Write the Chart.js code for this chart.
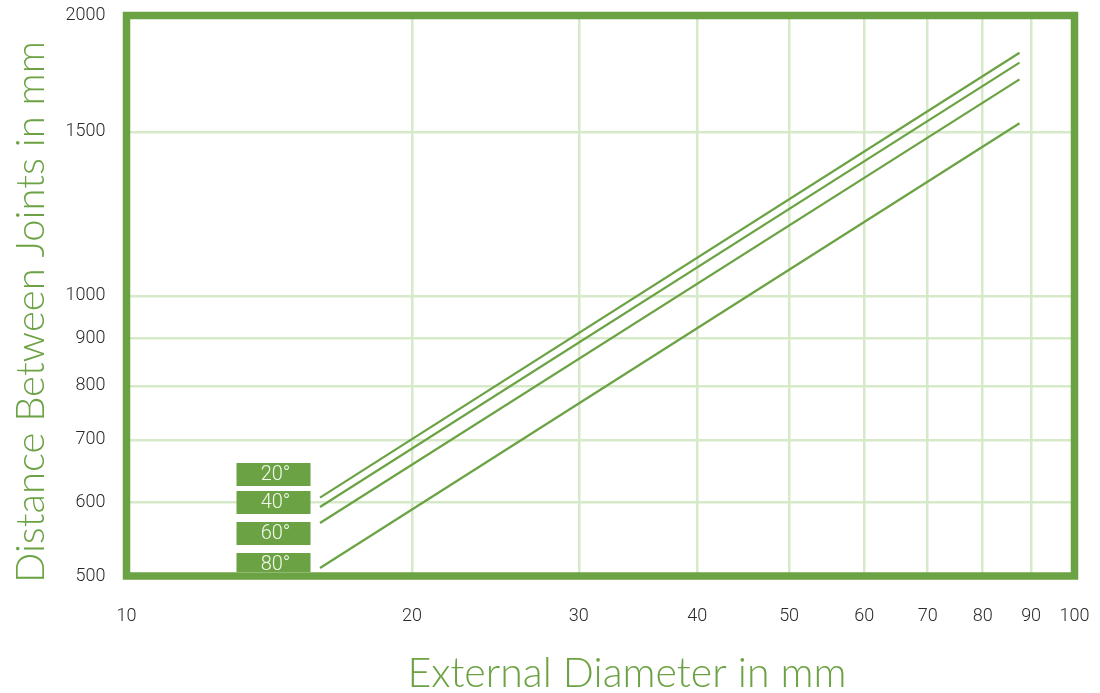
<!DOCTYPE html>
<html>
<head>
<meta charset="utf-8">
<script src="https://cdn.jsdelivr.net/npm/chart.js@4.4.1/dist/chart.umd.min.js"></script>
<style>
  html, body { margin: 0; padding: 0; background: #fff; }
  canvas { display: block; }
</style>
</head>
<body>
<canvas id="jointsChart" width="1100" height="693"></canvas>
<script>
const GREEN = "#6ba243";
const GRID = "#d6e9c9";

// External diameter (mm) at the two ends of each line
const diameters = [16, 87.5];

// Distance between joints (mm), one pair per angle
const angleLabels = ["20°", "40°", "60°", "80°"];
const dist20 = [607, 1824];
const dist40 = [593, 1780];
const dist60 = [570, 1708];
const dist80 = [510, 1532];

const xTicks = [10, 20, 30, 40, 50, 60, 70, 80, 90, 100];
const yTicks = [500, 600, 700, 800, 900, 1000, 1500, 2000];

function toPoints(ys) {
  return diameters.map((d, i) => ({ x: d, y: ys[i] }));
}

const series = [dist20, dist40, dist60, dist80];

// frame, angle boxes and axis titles
const decorPlugin = {
  id: "decor",
  beforeDatasetsDraw(chart) {
    const { ctx, chartArea: a } = chart;
    ctx.save();
    ctx.strokeStyle = GREEN;
    ctx.lineWidth = 7.5;
    ctx.strokeRect(a.left, a.top, a.right - a.left, a.bottom - a.top);
    ctx.restore();
  },
  afterDatasetsDraw(chart) {
    const { ctx, chartArea: a } = chart;
    ctx.save();
    // legend boxes
    const boxTops = [463, 491, 522, 553];
    boxTops.forEach((top, i) => {
      const h = i === 3 ? 19 : 23;
      ctx.fillStyle = GREEN;
      ctx.fillRect(a.left + 110, top, 74, h);
      ctx.fillStyle = "#f3f8ee";
      ctx.font = "300 20px Roboto";
      ctx.textAlign = "center";
      ctx.textBaseline = "middle";
      ctx.fillText(angleLabels[i], a.left + 149, top + 12);
    });

    ctx.fillStyle = GREEN;
    ctx.textAlign = "center";
    ctx.textBaseline = "alphabetic";
    ctx.font = "300 41px Lato";
    ctx.fillText("External Diameter in mm", 627, 687);

    ctx.font = "300 40px Lato";
    ctx.translate(44, 312);
    ctx.rotate(-Math.PI / 2);
    ctx.fillText("Distance Between Joints in mm", 0, 0);
    ctx.restore();
  }
};

new Chart(document.getElementById("jointsChart"), {
  type: "line",
  data: {
    datasets: series.map((ys, i) => ({
      label: angleLabels[i],
      data: toPoints(ys),
      borderColor: GREEN,
      borderWidth: 2.2,
      pointRadius: 0,
      fill: false,
      tension: 0
    }))
  },
  options: {
    responsive: false,
    animation: false,
    layout: { padding: { top: 15.5, right: 25.5, left: 0, bottom: 0 } },
    plugins: {
      legend: { display: false },
      tooltip: { enabled: false }
    },
    scales: {
      x: {
        type: "logarithmic",
        min: 10,
        max: 100,
        afterBuildTicks: scale => { scale.ticks = xTicks.map(v => ({ value: v })); },
        afterFit: scale => {
          scale.height = 117;
          scale.paddingLeft = 0;
          scale.paddingRight = 0;
        },
        grid: { color: GRID, lineWidth: 2.5, drawTicks: false },
        border: { display: false },
        ticks: {
          padding: 30,
          color: "#2a2a2a",
          font: { family: "Roboto", weight: "300", size: 18 },
          maxRotation: 0,
          autoSkip: false,
          callback: v => String(v)
        }
      },
      y: {
        type: "logarithmic",
        min: 500,
        max: 2000,
        afterBuildTicks: scale => { scale.ticks = yTicks.map(v => ({ value: v })); },
        afterFit: scale => {
          scale.width = 126.5;
          scale.paddingTop = 0;
          scale.paddingBottom = 0;
        },
        grid: { color: GRID, lineWidth: 2.5, drawTicks: false },
        border: { display: false },
        ticks: {
          padding: 21,
          color: "#2a2a2a",
          font: { family: "Roboto", weight: "300", size: 18 },
          autoSkip: false,
          callback: v => String(v)
        }
      }
    }
  },
  plugins: [decorPlugin]
});
</script>
</body>
</html>
